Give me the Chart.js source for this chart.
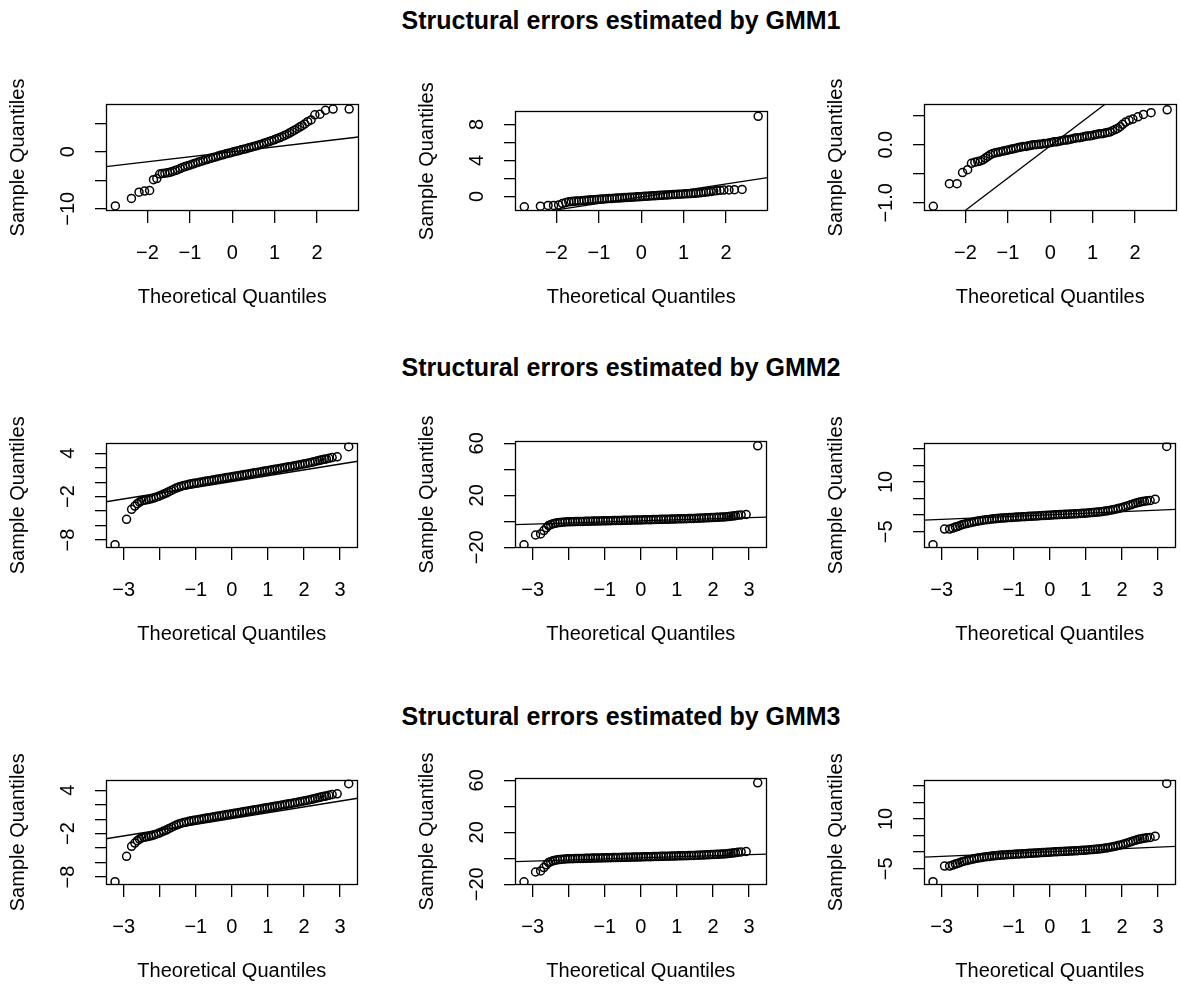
<!DOCTYPE html>
<html>
<head>
<meta charset="utf-8">
<script src="https://cdn.jsdelivr.net/npm/chart.js@4.4.0/dist/chart.umd.min.js"></script>
<style>
  body { margin: 0; background: #fff; }
  #page { position: relative; width: 1180px; height: 988px; overflow: hidden; background: #fff; }
  #page canvas { position: absolute; }
  .main-title {
    position: absolute; left: 0; width: 1242px; text-align: center;
    font: bold 25px "Liberation Sans", Arial, sans-serif; line-height: 25px; color: #000;
  }
</style>
</head>
<body>
<div id="page"></div>
<script>
// titles of the three rows
const rowTitles = ['Structural errors estimated by GMM1', 'Structural errors estimated by GMM2', 'Structural errors estimated by GMM3'];

// theoretical quantiles (x), row 1 panels
const theoQ1 = [-2.76, -2.38, -2.20, -2.07, -1.95, -1.86, -1.78, -1.71, -1.65, -1.59,
  -1.53, -1.47, -1.41, -1.35, -1.29, -1.23, -1.17, -1.11, -1.05, -0.99, -0.93, -0.87, -0.81,
  -0.75, -0.69, -0.63, -0.57, -0.51, -0.45, -0.39, -0.33, -0.27, -0.21, -0.15, -0.09, -0.03,
  0.03, 0.09, 0.15, 0.21, 0.27, 0.33, 0.39, 0.45, 0.51, 0.57, 0.63, 0.69, 0.75, 0.81, 0.87,
  0.93, 0.99, 1.05, 1.11, 1.17, 1.23, 1.29, 1.35, 1.41, 1.47, 1.53,
  1.59, 1.65, 1.71, 1.78, 1.86, 1.95, 2.07, 2.20, 2.38, 2.76];

// sample quantiles, GMM1
const gmm1Err1 = [-9.5, -8.2, -7.1, -6.9, -6.8, -4.9, -4.7, -3.9, -3.8, -3.75,
  -3.7, -3.6, -3.45, -3.3, -3.15, -2.95, -2.75, -2.6, -2.45, -2.3, -2.15, -2.0, -1.85,
  -1.7, -1.55, -1.4, -1.3, -1.15, -1.0, -0.9, -0.75, -0.6, -0.5, -0.35, -0.25, -0.15,
  0.0, 0.1, 0.2, 0.35, 0.45, 0.55, 0.7, 0.8, 0.95, 1.05, 1.2, 1.35, 1.5, 1.65, 1.8,
  1.95, 2.1, 2.3, 2.45, 2.65, 2.85, 3.05, 3.3, 3.55, 3.8, 4.05,
  4.35, 4.6, 4.9, 5.3, 5.6, 6.5, 6.6, 7.3, 7.5, 7.5];
const gmm1Err2 = [-1.15, -1.08, -1.0, -1.0, -0.95, -0.8, -0.68, -0.6, -0.57, -0.55,
  -0.52, -0.5, -0.48, -0.45, -0.43, -0.4, -0.38, -0.36, -0.34, -0.32, -0.3, -0.28, -0.26,
  -0.24, -0.22, -0.2, -0.18, -0.17, -0.15, -0.13, -0.11, -0.1, -0.08, -0.06, -0.05, -0.03,
  -0.01, 0.01, 0.03, 0.05, 0.07, 0.08, 0.1, 0.12, 0.14, 0.15, 0.17, 0.19, 0.2, 0.22, 0.24,
  0.25, 0.27, 0.29, 0.3, 0.32, 0.34, 0.36, 0.39, 0.42, 0.45, 0.48,
  0.52, 0.56, 0.6, 0.64, 0.68, 0.7, 0.72, 0.75, 0.78, 8.9];
const gmm1Err3 = [-1.06, -0.67, -0.67, -0.48, -0.43, -0.32, -0.3, -0.29, -0.28, -0.26,
  -0.23, -0.2, -0.17, -0.15, -0.14, -0.13, -0.12, -0.11, -0.1, -0.09, -0.08, -0.07, -0.06,
  -0.05, -0.04, -0.03, -0.03, -0.02, -0.01, 0.0, 0.0, 0.01, 0.01, 0.02, 0.02, 0.03,
  0.04, 0.05, 0.05, 0.06, 0.07, 0.08, 0.08, 0.09, 0.1, 0.11, 0.12, 0.12, 0.13, 0.14, 0.15,
  0.15, 0.16, 0.17, 0.18, 0.19, 0.19, 0.2, 0.21, 0.22, 0.24, 0.26,
  0.28, 0.31, 0.35, 0.39, 0.42, 0.44, 0.48, 0.52, 0.55, 0.6];

// theoretical quantiles (x), rows 2 and 3
const theoQ2 = [-3.24, -2.92, -2.78, -2.69, -2.62, -2.56, -2.50, -2.44,
  -2.38, -2.31, -2.24, -2.17, -2.10, -2.03, -1.96, -1.89, -1.82, -1.75, -1.68, -1.61, -1.54,
  -1.47, -1.40, -1.33, -1.26, -1.19, -1.12, -1.05, -0.98, -0.91, -0.84, -0.77, -0.70, -0.63,
  -0.56, -0.49, -0.42, -0.35, -0.28, -0.21, -0.14, -0.07, 0, 0.07, 0.14, 0.21, 0.28, 0.35,
  0.42, 0.49, 0.56, 0.63, 0.70, 0.77, 0.84, 0.91, 0.98, 1.05, 1.12, 1.19, 1.26, 1.33, 1.40,
  1.47, 1.54, 1.61, 1.68, 1.75, 1.82, 1.89, 1.96, 2.03, 2.10, 2.17, 2.24, 2.31, 2.38,
  2.44, 2.50, 2.56, 2.62, 2.69, 2.78, 2.92, 3.24];

// sample quantiles, GMM2
const gmm2Err1 = [-8.64, -5.13, -3.76, -3.3, -2.98, -2.75, -2.6, -2.5,
  -2.45, -2.38, -2.3, -2.2, -2.08, -1.95, -1.8, -1.65, -1.5, -1.32, -1.15, -0.98, -0.82,
  -0.68, -0.56, -0.46, -0.38, -0.3, -0.23, -0.16, -0.1, -0.03, 0.03, 0.09, 0.15, 0.21,
  0.27, 0.33, 0.39, 0.45, 0.51, 0.57, 0.63, 0.69, 0.75, 0.81, 0.87, 0.93, 0.99, 1.05,
  1.11, 1.17, 1.23, 1.29, 1.35, 1.41, 1.47, 1.53, 1.59, 1.65, 1.71, 1.77, 1.83, 1.9, 1.96,
  2.02, 2.08, 2.14, 2.2, 2.27, 2.34, 2.41, 2.48, 2.55, 2.62, 2.7, 2.78, 2.86, 2.95,
  3.02, 3.1, 3.16, 3.22, 3.3, 3.4, 3.5, 4.9];
const gmm2Err2 = [-18.1, -10.6, -9.8, -7.2, -5.1, -3.3, -2.6, -2.0,
  -1.6, -1.2, -0.9, -0.7, -0.55, -0.45, -0.35, -0.3, -0.25, -0.2, -0.15, -0.1, -0.05,
  0.0, 0.05, 0.1, 0.15, 0.2, 0.25, 0.3, 0.35, 0.4, 0.45, 0.5, 0.55, 0.6,
  0.65, 0.7, 0.75, 0.8, 0.85, 0.9, 0.95, 1.0, 1.05, 1.1, 1.15, 1.2, 1.25, 1.3,
  1.35, 1.4, 1.45, 1.5, 1.55, 1.6, 1.65, 1.7, 1.75, 1.85, 1.9, 1.95, 2.0, 2.1, 2.15,
  2.2, 2.3, 2.35, 2.45, 2.5, 2.6, 2.7, 2.8, 2.9, 3.0, 3.1, 3.2, 3.35, 3.5,
  3.7, 3.9, 4.1, 4.3, 4.6, 4.9, 5.2, 58.1];
const gmm2Err3 = [-8.9, -4.2, -4.2, -3.9, -3.6, -3.4, -3.2, -2.9,
  -2.75, -2.55, -2.35, -2.2, -2.0, -1.85, -1.7, -1.58, -1.47, -1.37, -1.28, -1.2, -1.12,
  -1.04, -0.97, -0.9, -0.84, -0.78, -0.73, -0.68, -0.63, -0.58, -0.53, -0.49, -0.45, -0.4,
  -0.36, -0.32, -0.27, -0.23, -0.18, -0.14, -0.09, -0.05, 0, 0.04, 0.08, 0.12, 0.16, 0.2,
  0.24, 0.28, 0.32, 0.36, 0.4, 0.45, 0.5, 0.55, 0.6, 0.66, 0.72, 0.78, 0.85, 0.92, 1.0,
  1.1, 1.22, 1.35, 1.5, 1.65, 1.8, 1.98, 2.16, 2.35, 2.6, 2.85, 3.1, 3.35, 3.6,
  3.8, 3.95, 4.1, 4.2, 4.3, 4.4, 4.8, 20.7];

// GMM3 panels show the same values as GMM2
const gmm3Err1 = gmm2Err1.slice();
const gmm3Err2 = gmm2Err2.slice();
const gmm3Err3 = gmm2Err3.slice();

// reference lines (qqline), y at the two x ends
const lineX1 = [-2.98, 2.98];
const lineX2 = [-3.49, 3.49];
const gmm1Line1 = [-2.6, 2.6];
const gmm1Line2 = [-2.2, 2.08];
const gmm1Line3 = [-1.67, 1.63];
const gmm2Line1 = [-2.71, 2.89];
const gmm2Line2 = [-2.6, 3.1];
const gmm2Line3 = [-1.49, 1.75];

// axis ticks and labels ('' = tick without label)
const xTicks1 = [-2, -1, 0, 1, 2];
const xLabels1 = ['−2', '−1', '0', '1', '2'];
const xTicks2 = [-3, -2, -1, 0, 1, 2, 3];
const xLabels2 = ['−3', '', '−1', '0', '1', '2', '3'];
const yTicksA = [-10, -5, 0, 5];
const yLabelsA = ['−10', '', '0', ''];
const yTicksB = [0, 2, 4, 6, 8];
const yLabelsB = ['0', '', '4', '', '8'];
const yTicksC = [-1, -0.5, 0, 0.5];
const yLabelsC = ['−1.0', '', '0.0', ''];
const yTicksD = [-8, -6, -4, -2, 0, 2, 4];
const yLabelsD = ['−8', '', '', '−2', '', '', '4'];
const yTicksE = [-20, 0, 20, 40, 60];
const yLabelsE = ['−20', '', '20', '', '60'];
const yTicksF = [-5, 0, 5, 10, 15, 20];
const yLabelsF = ['−5', '', '', '10', '', ''];

const panels = [
  { row: 0, col: 0, x: theoQ1, y: gmm1Err1, lx: lineX1, ly: gmm1Line1, xr: [-2.98, 2.98], yr: [-10.4, 8.4], xt: xTicks1, xl: xLabels1, yt: yTicksA, yl: yLabelsA },
  { row: 0, col: 1, x: theoQ1, y: gmm1Err2, lx: lineX1, ly: gmm1Line2, xr: [-2.98, 2.98], yr: [-1.62, 9.44], xt: xTicks1, xl: xLabels1, yt: yTicksB, yl: yLabelsB },
  { row: 0, col: 2, x: theoQ1, y: gmm1Err3, lx: lineX1, ly: gmm1Line3, xr: [-2.98, 2.98], yr: [-1.14, 0.7], xt: xTicks1, xl: xLabels1, yt: yTicksC, yl: yLabelsC },
  { row: 1, col: 0, x: theoQ2, y: gmm2Err1, lx: lineX2, ly: gmm2Line1, xr: [-3.49, 3.49], yr: [-9.1, 5.47], xt: xTicks2, xl: xLabels2, yt: yTicksD, yl: yLabelsD },
  { row: 1, col: 1, x: theoQ2, y: gmm2Err2, lx: lineX2, ly: gmm2Line2, xr: [-3.49, 3.49], yr: [-20.6, 61.8], xt: xTicks2, xl: xLabels2, yt: yTicksE, yl: yLabelsE },
  { row: 1, col: 2, x: theoQ2, y: gmm2Err3, lx: lineX2, ly: gmm2Line3, xr: [-3.49, 3.49], yr: [-9.9, 21.85], xt: xTicks2, xl: xLabels2, yt: yTicksF, yl: yLabelsF },
  { row: 2, col: 0, x: theoQ2, y: gmm3Err1, lx: lineX2, ly: gmm2Line1, xr: [-3.49, 3.49], yr: [-9.1, 5.47], xt: xTicks2, xl: xLabels2, yt: yTicksD, yl: yLabelsD },
  { row: 2, col: 1, x: theoQ2, y: gmm3Err2, lx: lineX2, ly: gmm2Line2, xr: [-3.49, 3.49], yr: [-20.6, 61.8], xt: xTicks2, xl: xLabels2, yt: yTicksE, yl: yLabelsE },
  { row: 2, col: 2, x: theoQ2, y: gmm3Err3, lx: lineX2, ly: gmm2Line3, xr: [-3.49, 3.49], yr: [-9.9, 21.85], xt: xTicks2, xl: xLabels2, yt: yTicksF, yl: yLabelsF }
];

// layout
const FONT = '"Liberation Sans", Arial, sans-serif';
const colLeft = [106, 515, 924];
const rowTop = [104, 441, 778];
const titleY = [20, 367, 716];
const boxW = 254, boxH = 107;
const yAxisW = 100, xAxisH = 98, padTop = 26, padRight = 4;
const INK = 1.3;

Chart.defaults.font.family = FONT;
Chart.defaults.color = '#000';

const page = document.getElementById('page');

rowTitles.forEach((t, i) => {
  const d = document.createElement('div');
  d.className = 'main-title';
  d.style.top = (titleY[i] - 12) + 'px';
  d.textContent = t;
  page.appendChild(d);
});

// box around the plot region
const frame = {
  id: 'frame',
  afterDatasetsDraw(chart) {
    const { ctx, chartArea: a } = chart;
    ctx.save();
    ctx.strokeStyle = '#000';
    ctx.lineWidth = INK;
    ctx.strokeRect(Math.round(a.left) + 0.5, Math.round(a.top) + 0.5,
      Math.round(a.right - a.left) - 1, Math.round(a.bottom - a.top) - 1);
    ctx.restore();
  }
};

const measure = document.createElement('canvas').getContext('2d');
measure.font = '20px ' + FONT;

panels.forEach(p => {
  const canvas = document.createElement('canvas');
  canvas.width = yAxisW + boxW + padRight;
  canvas.height = padTop + boxH + xAxisH;
  canvas.style.left = (colLeft[p.col] - yAxisW) + 'px';
  canvas.style.top = (rowTop[p.row] - padTop) + 'px';
  page.appendChild(canvas);

  const widest = Math.max(...p.yl.map(t => measure.measureText(t).width));

  new Chart(canvas, {
    type: 'scatter',
    data: {
      datasets: [
        {
          type: 'scatter',
          data: p.x.map((v, i) => ({ x: v, y: p.y[i] })),
          pointRadius: 4,
          pointHoverRadius: 4,
          pointBorderWidth: 1.5,
          pointBorderColor: '#000',
          pointBackgroundColor: 'rgba(0,0,0,0)'
        },
        {
          type: 'line',
          data: p.lx.map((v, i) => ({ x: v, y: p.ly[i] })),
          borderColor: '#000',
          borderWidth: INK,
          pointRadius: 0,
          fill: false
        }
      ]
    },
    options: {
      responsive: false,
      animation: false,
      devicePixelRatio: 1,
      layout: { padding: { left: 0, top: padTop, right: padRight, bottom: 0 } },
      plugins: { legend: { display: false }, tooltip: { enabled: false } },
      scales: {
        x: {
          type: 'linear',
          min: p.xr[0], max: p.xr[1],
          bounds: 'data',
          afterBuildTicks: a => { a.ticks = p.xt.map(v => ({ value: v })); },
          afterFit: s => { s.height = xAxisH; },
          ticks: {
            autoSkip: false, minRotation: 0, maxRotation: 0, padding: 18,
            color: '#000', font: { size: 20 },
            callback: (v, i) => p.xl[i]
          },
          grid: { drawOnChartArea: false, drawTicks: true, tickLength: 12, color: '#000', lineWidth: INK },
          border: { display: false },
          title: { display: true, text: 'Theoretical Quantiles', color: '#000', font: { size: 20 }, padding: 0 }
        },
        y: {
          type: 'linear',
          min: p.yr[0], max: p.yr[1],
          bounds: 'data',
          afterBuildTicks: a => { a.ticks = p.yt.map(v => ({ value: v })); },
          afterFit: s => { s.width = yAxisW; },
          ticks: {
            autoSkip: false, minRotation: 90, maxRotation: 90, crossAlign: 'center',
            padding: 27 - widest / 2,
            color: '#000', font: { size: 20 },
            callback: (v, i) => p.yl[i]
          },
          grid: { drawOnChartArea: false, drawTicks: true, tickLength: 11, color: '#000', lineWidth: INK },
          border: { display: false },
          title: { display: true, text: 'Sample Quantiles', color: '#000', font: { size: 20 }, padding: 0 }
        }
      }
    },
    plugins: [frame]
  });
});
</script>
</body>
</html>
